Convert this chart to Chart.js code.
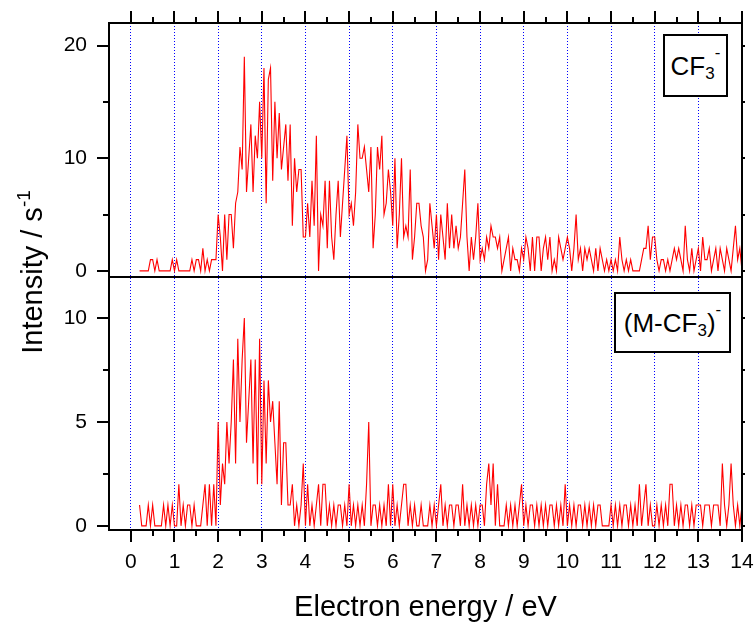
<!DOCTYPE html>
<html><head><meta charset="utf-8">
<script src="https://cdn.jsdelivr.net/npm/chart.js@4.4.1/dist/chart.umd.min.js"></script>
<style>
html,body{margin:0;padding:0;background:#fff;}
#wrap{position:relative;width:755px;height:625px;overflow:hidden;font-family:"Liberation Sans",Arial,sans-serif;color:#000;}
canvas{display:block;}
.tag{position:absolute;box-sizing:border-box;border:2px solid #000;background:#fff;display:flex;align-items:center;justify-content:center;font-size:26px;line-height:1;white-space:nowrap;}
.tag sub,.tag sup,#ylab sup{font-size:17px;line-height:0;position:relative;vertical-align:baseline;}
.tag sub{top:8px;}
.tag sup{top:-13px;}
#tag1{left:663px;top:34px;width:65px;height:63px;}
#tag2{left:614px;top:292px;width:117px;height:61px;}
#ylab{position:absolute;left:-118px;top:254px;width:300px;height:36px;line-height:36px;text-align:center;font-size:29px;transform:rotate(-90deg);white-space:nowrap;}
#ylab sup{font-size:19px;top:-12px;}
</style></head>
<body>
<div id="wrap">
<canvas id="c" width="755" height="625"></canvas>
<div id="ylab">Intensity / s<sup>-1</sup></div>
<div class="tag" id="tag1">CF<sub>3</sub><sup>-</sup></div>
<div class="tag" id="tag2">(M-CF<sub>3</sub>)<sup>-</sup></div>
</div>
<script>
// ---- sampling grid (eV) ----
const energyStart = 0.2;
const energyStep = 0.05;

// ---- CF3- intensity (counts / s), one row per eV ----
const cf3Counts = [
  0,0,0,0,0,1,1,0,1,0,0,0,0,0,0,1,                 // 0.20-0.95
  0,1,0,0,0,0,0,0,1,0,1,1,0,2,0,1,0,1,1,1,         // 1.00-1.95
  5,3,0,5,1,5,5,2,6,7,11,9,19,7,10,13,7,12,10,15,  // 2.00-2.95
  10,18,6,17,18,8,15,10,14,9,11,13,8,13,4,10,7,9,9,3, // 3.00-3.95
  3,6,3,8,4,12,0,5,4,8,2,8,3,1,5,8,3,6,9,12,       // 4.00-4.95
  5,6,4,7,13,10,10,11,9,7,11,2,5,11,9,12,5,6,9,7,  // 5.00-5.95
  4,10,2,5,10,3,4,3,9,1,3,6,6,4,3,0,1,6,4,2,       // 6.00-6.95
  5,1,5,3,1,6,2,5,2,4,2,3,6,9,3,0,3,1,3,6,         // 7.00-7.95
  1,2,1,3,2,4,3,3,2,3,0,1,2,3,0,2,1,1,0,2,         // 8.00-8.95
  1,3,2,0,3,0,3,3,0,2,3,1,3,0,1,0,3,2,1,2,         // 9.00-9.95
  3,2,0,2,5,1,2,0,2,1,2,1,0,2,0,2,1,0,1,0,         // 10.00-10.95
  1,0,1,0,3,1,0,1,0,1,0,0,0,0,1,2,2,4,1,3,         // 11.00-11.95
  3,1,0,1,1,0,1,0,1,2,1,2,1,0,4,1,0,2,0,1,         // 12.00-12.95
  2,0,3,1,1,2,0,1,2,0,2,1,0,2,1,0,2,4,1,2,0        // 13.00-14.00
];

// ---- (M-CF3)- intensity (counts / s) ----
const mcf3Counts = [
  1,0,0,0,1,0,1,0,0,0,0,1,0,1,0,1,                 // 0.20-0.95
  0,0,2,0,1,0,1,1,0,1,0,0,0,1,2,0,2,0,2,0,         // 1.00-1.95
  5,1,3,2,5,3,5,8,3,9,5,8,10,4,6,8,3,8,2,9,        // 2.00-2.95
  2,7,3,7,5,6,4,2,6,1,4,4,1,1,2,0,1,0,1,3,         // 3.00-3.95
  0,2,0,1,0,1,2,0,2,2,0,1,0,1,0,1,1,0,1,0,         // 4.00-4.95
  2,0,1,0,1,0,1,0,2,5,0,1,1,0,1,0,1,0,2,0,         // 5.00-5.95
  2,0,1,0,1,2,2,0,1,0,1,0,0,1,0,0,0,1,0,1,         // 6.00-6.95
  0,1,2,0,1,0,1,1,0,1,1,0,2,0,1,0,1,0,1,0,         // 7.00-7.95
  1,1,0,2,3,1,3,0,2,0,0,0,1,0,1,0,1,0,1,2,         // 8.00-8.95
  0,1,0,1,1,0,1,0,1,0,1,0,1,1,0,1,0,1,0,2,         // 9.00-9.95
  0,1,0,1,0,1,1,0,1,0,1,0,1,0,1,1,0,0,0,0,         // 10.00-10.95
  1,0,1,0,1,0,1,1,0,1,0,1,0,2,0,1,2,0,1,0,         // 11.00-11.95
  0,1,0,1,0,1,0,2,2,0,1,0,1,0,1,1,0,1,0,1,         // 12.00-12.95
  1,1,0,1,1,1,0,1,1,1,0,3,1,0,1,3,1,0,1,0,1        // 13.00-14.00
];

// ---- ticks ----
const xTickValues = [0,1,2,3,4,5,6,7,8,9,10,11,12,13,14];
const xTickLabels = ['0','1','2','3','4','5','6','7','8','9','10','11','12','13','14'];
const xMinorTicks = [0.5,1.5,2.5,3.5,4.5,5.5,6.5,7.5,8.5,9.5,10.5,11.5,12.5,13.5];
const topTickValues = [0,10,20];
const topTickLabels = ['0','10','20'];
const topMinorTicks = [5,15];
const botTickValues = [0,5,10];
const botTickLabels = ['0','5','10'];
const botMinorTicks = [2.5,7.5];

const energies = cf3Counts.map((_, i) => Math.round((energyStart + i * energyStep) * 100) / 100);
const toPoints = arr => arr.map((v, i) => ({x: energies[i], y: v}));

const FONT = '"Liberation Sans", Arial, sans-serif';

const framePlugin = {
  id: 'frame',
  afterDraw(chart) {
    const {ctx, chartArea: a, scales} = chart;
    const xs = scales.x, yT = scales.yTop, yB = scales.yBot;
    const L = Math.round(a.left), R = Math.round(a.right), T = Math.round(a.top), B = Math.round(a.bottom);
    const M = Math.round(yT.bottom);
    ctx.save();
    ctx.strokeStyle = '#000';
    ctx.lineWidth = 2;
    ctx.beginPath();
    ctx.rect(L, T, R - L, B - T);
    ctx.moveTo(L, M); ctx.lineTo(R, M);
    ctx.stroke();
    ctx.beginPath();
    const seg = (x1, y1, x2, y2) => { ctx.moveTo(x1, y1); ctx.lineTo(x2, y2); };
    xTickValues.forEach(v => { const p = Math.round(xs.getPixelForValue(v)); seg(p, T, p, T - 12); seg(p, B, p, B + 12); });
    xMinorTicks.forEach(v => { const p = Math.round(xs.getPixelForValue(v)); seg(p, T, p, T - 6); seg(p, B, p, B + 6); });
    const yTicks = (scale, major, minor) => {
      major.forEach(v => { const p = Math.round(scale.getPixelForValue(v)); seg(L, p, L - 12, p); seg(R, p, R + 3, p); });
      minor.forEach(v => { const p = Math.round(scale.getPixelForValue(v)); seg(L, p, L - 6, p); seg(R, p, R + 3, p); });
    };
    yTicks(yT, topTickValues, topMinorTicks);
    yTicks(yB, botTickValues, botMinorTicks);
    ctx.stroke();
    ctx.restore();
  }
};

const yCommon = (min, max, vals, labels) => ({
  type: 'linear', position: 'left', stack: 'panels', stackWeight: 1,
  min: min, max: max,
  afterBuildTicks(s) { s.ticks = vals.map(v => ({value: v})); },
  afterFit(s) { s.width = 109; s.paddingTop = 0; s.paddingBottom = 0; s.paddingLeft = 0; s.paddingRight = 0; },
  grid: {display: false, drawTicks: false},
  border: {display: false},
  ticks: {
    padding: 22, color: '#000', font: {family: FONT, size: 21},
    callback: (v, i) => labels[i]
  }
});

new Chart(document.getElementById('c'), {
  type: 'line',
  data: {
    datasets: [
      {label: 'CF3-', data: toPoints(cf3Counts), yAxisID: 'yTop', borderColor: '#ff0000', borderWidth: 1.1, pointRadius: 0, tension: 0, fill: false},
      {label: '(M-CF3)-', data: toPoints(mcf3Counts), yAxisID: 'yBot', borderColor: '#ff0000', borderWidth: 1.1, pointRadius: 0, tension: 0, fill: false}
    ]
  },
  options: {
    responsive: false, animation: false, devicePixelRatio: 1,
    layout: {padding: {top: 23, right: 13, left: 0, bottom: 0}},
    plugins: {legend: {display: false}, tooltip: {enabled: false}},
    scales: {
      x: {
        type: 'linear', position: 'bottom', min: -0.5, max: 14,
        afterBuildTicks(s) { s.ticks = xTickValues.map(v => ({value: v})); },
        afterFit(s) { s.height = 95; s.paddingTop = 0; s.paddingBottom = 0; s.paddingLeft = 0; s.paddingRight = 0; },
        grid: {color: '#0000ff', lineWidth: 1, drawTicks: false},
        border: {display: false, dash: [1, 2]},
        ticks: {
          padding: 20, color: '#000', font: {family: FONT, size: 21},
          autoSkip: false, maxRotation: 0, minRotation: 0,
          callback: (v, i) => xTickLabels[i]
        },
        title: {display: true, text: 'Electron energy / eV', color: '#000', font: {family: FONT, size: 29}, padding: {top: 0, bottom: 0}}
      },
      yBot: yCommon(-0.2, 12, botTickValues, botTickLabels),
      yTop: yCommon(-0.5, 22, topTickValues, topTickLabels)
    }
  },
  plugins: [framePlugin]
});
</script>
</body></html>
